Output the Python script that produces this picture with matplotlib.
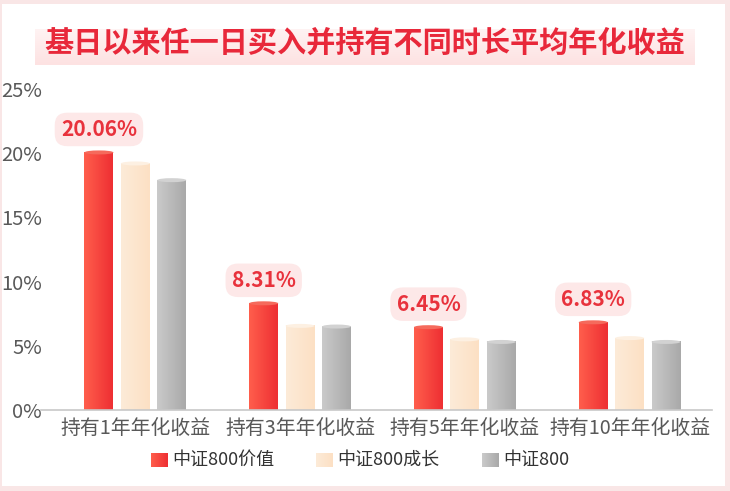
import numpy as np
import matplotlib
matplotlib.use("Agg")
import matplotlib.pyplot as plt
from matplotlib.colors import LinearSegmentedColormap
from matplotlib.patches import Ellipse, Rectangle

plt.rcParams['font.family'] = ['Noto Sans CJK SC', 'DejaVu Sans']

# 数据
categories = ["持有1年年化收益", "持有3年年化收益", "持有5年年化收益", "持有10年年化收益"]
series_names = ["中证800价值", "中证800成长", "中证800"]
value_800 = [20.06, 8.31, 6.45, 6.83]
growth_800 = [19.2, 6.55, 5.5, 5.6]
csi_800 = [17.9, 6.5, 5.3, 5.3]
y_ticks = [0, 5, 10, 15, 20, 25]

series = [value_800, growth_800, csi_800]
# 每个系列的渐变色 (左, 右) 和顶部颜色
grad_colors = [("#ff5e4c", "#ee2f33"), ("#fdebd8", "#fce0c4"), ("#cacaca", "#a9a9a9")]
cap_colors = ["#f56a5c", "#fdf0e2", "#d2d2d2"]

W, H = 730, 491
fig = plt.figure(figsize=(W / 100, H / 100), dpi=100)
fig.patch.set_facecolor("#f9e6e6")
# 白色底板
fig.patches.append(Rectangle((2 / W, 1 - 486 / H), 723 / W, 482 / H,
                             transform=fig.transFigure, facecolor="white",
                             edgecolor="none", zorder=-10))

# 标题背景高亮
hl = fig.add_axes([35 / W, 1 - 65 / H, 660 / W, 36 / H])
hl.axis("off")
hl_cmap = LinearSegmentedColormap.from_list("hl", ["#fff3f3", "#fde2e2"])
hl.imshow(np.linspace(0, 1, 50).reshape(-1, 1), cmap=hl_cmap, aspect="auto",
          extent=[0, 1, 0, 1], origin="upper")
fig.text(365 / W, 1 - 43 / H, "基日以来任一日买入并持有不同时长平均年化收益",
         ha="center", va="center", fontsize=21, fontweight="bold", color="#e8283a")

ax = fig.add_axes([53 / W, 1 - 410 / H, 659 / W, 321 / H])
ax.set_facecolor("none")

bar_w = 0.176
step = 0.221
px_per_unit = 321 / 25
grad = np.linspace(0, 1, 64).reshape(1, -1)

x = np.arange(len(categories))
for si, vals in enumerate(series):
    cmap = LinearSegmentedColormap.from_list(f"g{si}", grad_colors[si])
    for ci, v in enumerate(vals):
        xc = x[ci] + (si - 1) * step
        x0, x1 = xc - bar_w / 2, xc + bar_w / 2
        ax.imshow(grad, cmap=cmap, aspect="auto", extent=[x0, x1, 0, v], zorder=2)
        ax.add_patch(Ellipse((xc, v), bar_w, 4 / px_per_unit, facecolor=cap_colors[si],
                             edgecolor="none", zorder=3))

# 数据标签
for ci, v in enumerate(value_800):
    xc = x[ci] - step
    ax.annotate(f"{v:.2f}%", (xc, v), xytext=(0, 23), textcoords="offset pixels",
                ha="center", va="center", fontsize=15, fontweight="bold", color="#e8323c",
                bbox=dict(boxstyle="round,pad=0.3,rounding_size=0.6", facecolor="#fde8e8",
                          edgecolor="none"), zorder=4)

ax.set_xlim(-0.5, 3.5)
ax.set_ylim(0, 25)
ax.set_xticks(x)
ax.set_xticklabels(categories, fontsize=14.3, color="#595959")
ax.set_yticks(y_ticks)
ax.set_yticklabels([f"{t}%" for t in y_ticks], fontsize=14.5, color="#595959")
ax.tick_params(axis="both", length=0)
ax.tick_params(axis="x", pad=6)
ax.tick_params(axis="y", pad=8)
for side in ["left", "top", "right"]:
    ax.spines[side].set_visible(False)
ax.spines["bottom"].set_color("#c8c8c8")
ax.spines["bottom"].set_linewidth(1.2)
ax.spines["bottom"].set_bounds(-0.57, 3.5)

# 图例
leg_x = [151, 316, 482]
leg_y = 460
for si, name in enumerate(series_names):
    lx = leg_x[si]
    la = fig.add_axes([lx / W, 1 - (leg_y + 7) / H, 17 / W, 14 / H])
    la.axis("off")
    cmap = LinearSegmentedColormap.from_list(f"l{si}", grad_colors[si])
    la.imshow(grad, cmap=cmap, aspect="auto", extent=[0, 1, 0, 1])
    fig.text((lx + 21) / W, 1 - leg_y / H, name, ha="left", va="center",
             fontsize=13, color="#333333")

fig.savefig("out.png", dpi=100, facecolor=fig.get_facecolor())
